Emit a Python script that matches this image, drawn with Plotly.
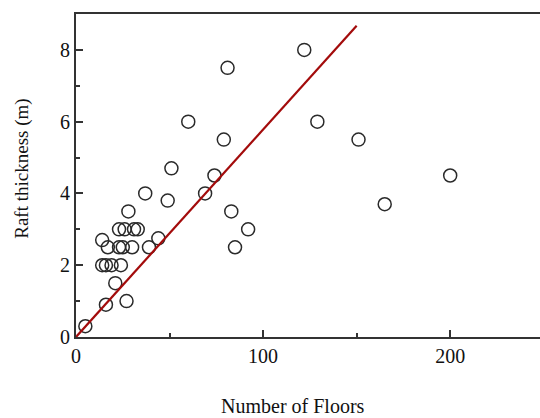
import plotly.graph_objects as go

floors = [5, 16, 27, 21, 14, 16, 19, 24, 14, 17, 23, 25, 30, 39, 44, 23, 26, 31, 33, 28,
          37, 49, 51, 60, 69, 74, 79, 81, 83, 85, 92, 122, 129, 151, 165, 200]
thickness = [0.3, 0.9, 1.0, 1.5, 2.0, 2.0, 2.0, 2.0, 2.7, 2.5, 2.5, 2.5, 2.5, 2.5, 2.75, 3.0, 3.0, 3.0, 3.0, 3.5,
             4.0, 3.8, 4.7, 6.0, 4.0, 4.5, 5.5, 7.5, 3.5, 2.5, 3.0, 8.0, 6.0, 5.5, 3.7, 4.5]

fit_x = [0, 150]
fit_y = [0, 8.67]

x_ticks = [0, 100, 200]
y_ticks = [0, 2, 4, 6, 8]

FONT = "Liberation Serif"
AX = "#333333"
TXT = "#111111"

fig = go.Figure()
fig.add_trace(go.Scatter(
    x=floors, y=thickness, mode="markers",
    marker=dict(symbol="circle-open", size=13, color="#2a2a2a", line=dict(width=1.5)),
    showlegend=False))
fig.add_trace(go.Scatter(
    x=fit_x, y=fit_y, mode="lines",
    line=dict(color="#a30b0b", width=2.2), showlegend=False))

fig.update_layout(
    width=540, height=418,
    margin=dict(l=76, r=0, t=14, b=81, autoexpand=False),
    paper_bgcolor="white", plot_bgcolor="white",
    font=dict(family=FONT, size=20, color=TXT),
    xaxis=dict(range=[0, 248], tickvals=x_ticks, ticks="inside", ticklen=7, tickwidth=1.5,
               tickcolor=AX, showline=True, linecolor=AX, linewidth=1.8, mirror=True,
               showgrid=False, zeroline=False,
               minor=dict(dtick=50, ticks="inside", ticklen=4, tickwidth=1.5, tickcolor=AX, showgrid=False),
               tickfont=dict(family=FONT, size=20, color=TXT)),
    yaxis=dict(range=[0, 9], tickvals=y_ticks, ticks="inside", ticklen=7, tickwidth=1.5,
               tickcolor=AX, showline=True, linecolor=AX, linewidth=1.8, mirror=False,
               showgrid=False, zeroline=False,
               minor=dict(dtick=1, ticks="inside", ticklen=4, tickwidth=1.5, tickcolor=AX, showgrid=False),
               tickfont=dict(family=FONT, size=20, color=TXT)),
    annotations=[
        dict(text="Number of Floors", xref="paper", yref="paper", x=0.468, y=-0.215,
             xanchor="center", yanchor="middle", showarrow=False,
             font=dict(family=FONT, size=20, color=TXT)),
        dict(text="Raft thickness (m)", xref="paper", yref="paper", x=-0.117, y=0.52,
             xanchor="center", yanchor="middle", textangle=-90, showarrow=False,
             font=dict(family=FONT, size=19, color=TXT)),
    ],
)

fig.write_html(
    "out.html",
    config={"displayModeBar": False},
    post_script="document.body.style.margin='0';document.body.style.overflow='hidden';",
)
